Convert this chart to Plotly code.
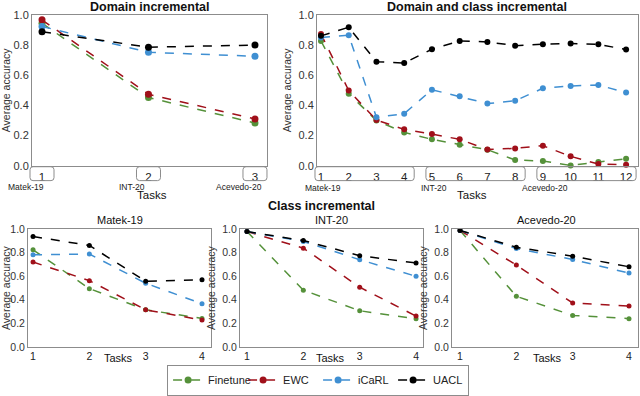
import plotly.graph_objects as go

W, H = 640, 396

methods = ["Finetune", "EWC", "iCaRL", "UACL"]
colors = {"Finetune": "#55913a", "EWC": "#a0101a", "iCaRL": "#3f8fd2", "UACL": "#000000"}
datasets = ["Matek-19", "INT-20", "Acevedo-20"]

# Domain incremental
tasks_domain = [1, 2, 3]
dom_finetune = [0.945, 0.452, 0.283]
dom_ewc = [0.967, 0.474, 0.310]
dom_icarl = [0.923, 0.752, 0.726]
dom_uacl = [0.888, 0.786, 0.800]

# Domain and class incremental
tasks_dc = list(range(1, 13))
dc_finetune = [0.827, 0.478, 0.299, 0.221, 0.175, 0.139, 0.106, 0.038, 0.031, 0.002, 0.024, 0.046]
dc_ewc = [0.874, 0.498, 0.303, 0.241, 0.210, 0.175, 0.108, 0.115, 0.133, 0.062, 0.011, 0.007]
dc_icarl = [0.850, 0.865, 0.321, 0.345, 0.504, 0.460, 0.412, 0.431, 0.513, 0.529, 0.535, 0.485]
dc_uacl = [0.861, 0.918, 0.690, 0.681, 0.772, 0.827, 0.821, 0.796, 0.805, 0.810, 0.805, 0.770]
dc_groups = [[1, 4], [5, 8], [9, 12]]

# Class incremental
tasks_class = [1, 2, 3, 4]
matek_finetune = [0.825, 0.495, 0.315, 0.242]
matek_ewc = [0.721, 0.563, 0.315, 0.228]
matek_icarl = [0.783, 0.789, 0.541, 0.366]
matek_uacl = [0.938, 0.862, 0.558, 0.571]

int_finetune = [0.98, 0.482, 0.307, 0.239]
int_ewc = [0.98, 0.839, 0.507, 0.262]
int_icarl = [0.98, 0.896, 0.741, 0.600]
int_uacl = [0.98, 0.904, 0.775, 0.713]

acevedo_finetune = [0.99, 0.430, 0.267, 0.240]
acevedo_ewc = [0.99, 0.695, 0.373, 0.347]
acevedo_icarl = [0.99, 0.836, 0.743, 0.627]
acevedo_uacl = [0.99, 0.847, 0.771, 0.681]

FONT = "Liberation Sans, Arial, sans-serif"
FRAME = "#8c8c8c"

# panel geometry: (xdomain, ydomain, xrange)
panels = {
    "": ([0.050, 0.4172], [0.5783, 0.9621], [0.906, 3.113]),
    "2": ([0.4953, 0.9969], [0.5783, 0.9621], [0.856, 12.43]),
    "3": ([0.0438, 0.3297], [0.1174, 0.4167], [0.911, 4.16]),
    "4": ([0.375, 0.661], [0.1174, 0.4167], [0.876, 4.124]),
    "5": ([0.7063, 0.9969], [0.1174, 0.4167], [0.858, 4.16]),
}


def to_paper(key, v):
    xd, _, xr = panels[key]
    return xd[0] + (v - xr[0]) / (xr[1] - xr[0]) * (xd[1] - xd[0])


def rounded_rect(x0, x1, y0, y1, r=3):
    rx, ry = r / W, r / H
    return (f"M {x0+rx},{y0} L {x1-rx},{y0} Q {x1},{y0} {x1},{y0+ry} "
            f"L {x1},{y1-ry} Q {x1},{y1} {x1-rx},{y1} L {x0+rx},{y1} "
            f"Q {x0},{y1} {x0},{y1-ry} L {x0},{y0+ry} Q {x0},{y0} {x0+rx},{y0} Z")


fig = go.Figure()

series = {
    "": (tasks_domain, [dom_finetune, dom_ewc, dom_icarl, dom_uacl], 7),
    "2": (tasks_dc, [dc_finetune, dc_ewc, dc_icarl, dc_uacl], 6),
    "3": (tasks_class, [matek_finetune, matek_ewc, matek_icarl, matek_uacl], 5),
    "4": (tasks_class, [int_finetune, int_ewc, int_icarl, int_uacl], 5),
    "5": (tasks_class, [acevedo_finetune, acevedo_ewc, acevedo_icarl, acevedo_uacl], 5),
}

for key, (xs, ys_list, msize) in series.items():
    for m, ys in zip(methods, ys_list):
        fig.add_trace(go.Scatter(
            x=xs, y=ys, mode="lines+markers", name=m,
            line=dict(color=colors[m], width=1.5, dash="dash"),
            marker=dict(color=colors[m], size=msize),
            xaxis="x" + key, yaxis="y" + key,
            showlegend=(key == ""), cliponaxis=False,
        ))

layout = dict(
    width=W, height=H, margin=dict(l=0, r=0, t=0, b=0),
    plot_bgcolor="white", paper_bgcolor="white",
    font=dict(family=FONT, color="#222"),
    legend=dict(orientation="h", x=0.497, y=0.033, xanchor="center", yanchor="middle",
                bordercolor=FRAME, borderwidth=1, font=dict(size=11),
                entrywidth=30, tracegroupgap=0),
)

for key, (xd, yd, xr) in panels.items():
    xs = series[key][0]
    top = key in ("", "2")
    layout["xaxis" + key] = dict(
        domain=xd, range=xr, anchor="y" + key, tickvals=xs, automargin=False,
        ticktext=[str(v) for v in xs], showgrid=False, zeroline=False,
        showline=True, mirror=True, linecolor=FRAME, linewidth=1,
        ticks="", tickfont=dict(size=11.5 if top else 10.5, color="#222"),
    )
    layout["yaxis" + key] = dict(
        domain=yd, range=[0, 1], anchor="x" + key, automargin=False,
        tickvals=[0, 0.2, 0.4, 0.6, 0.8, 1.0], tickformat=".1f",
        showgrid=False, zeroline=False, showline=True, mirror=True,
        linecolor=FRAME, linewidth=1, ticks="",
        tickfont=dict(size=11 if top else 10.5, color="#333"),
        title=dict(text="Average accuracy", font=dict(size=10.5, color="#333"),
                   standoff=4),
    )

fig.update_layout(**layout)

shapes = []
annotations = []

# Boxes around task ticks in top panels
by0, by1 = 1 - 182 / H, 1 - 168 / H
for t in tasks_domain:
    c = to_paper("", t)
    shapes.append(dict(type="path", xref="paper", yref="paper",
                       path=rounded_rect(c - 12 / W, c + 12 / W, by0, by1),
                       line=dict(color=FRAME, width=1)))
for g0, g1 in dc_groups:
    a, b = to_paper("2", g0), to_paper("2", g1)
    shapes.append(dict(type="path", xref="paper", yref="paper",
                       path=rounded_rect(a - 6 / W, b + 10 / W, by0, by1),
                       line=dict(color=FRAME, width=1)))

# Dataset labels under ticks
for t, name in zip(tasks_domain, datasets):
    annotations.append(dict(x=t, xref="x", y=1 - 188.5 / H, yref="paper", text=name,
                            showarrow=False, xanchor="center", yanchor="middle",
                            xshift=-16, font=dict(size=8.5, color="#222")))
for (g0, _), name in zip(dc_groups, datasets):
    annotations.append(dict(x=g0, xref="x2", y=1 - 189 / H, yref="paper", text=name,
                            showarrow=False, xanchor="center", yanchor="middle",
                            xshift=2, font=dict(size=8.5, color="#222")))

# Titles
titles = [
    ("Domain incremental", 149.5, 7, 12.5, True),
    ("Domain and class incremental", 477, 7, 12.5, True),
    ("Class incremental", 321, 208, 12.5, True),
    ("Matek-19", 119.5, 222, 11, False),
    ("INT-20", 331.5, 222, 11, False),
    ("Acevedo-20", 546, 222, 11, False),
    ("Tasks", 152, 196, 11.5, False),
    ("Tasks", 472, 196, 11.5, False),
    ("Tasks", 118, 361, 11, False),
    ("Tasks", 330, 361, 11, False),
    ("Tasks", 547, 361, 11, False),
]
for text, px, py, size, bold in titles:
    annotations.append(dict(x=px / W, y=1 - py / H, xref="paper", yref="paper",
                            text=f"<b>{text}</b>" if bold else text, showarrow=False,
                            xanchor="center", yanchor="middle",
                            font=dict(size=size, color="#111")))

fig.update_layout(shapes=shapes, annotations=annotations)

# the page body has a default 8px margin; drop it so the figure fills the window
fig.write_html("out.html", config={"displayModeBar": False},
               post_script="document.body.style.margin='0';")
